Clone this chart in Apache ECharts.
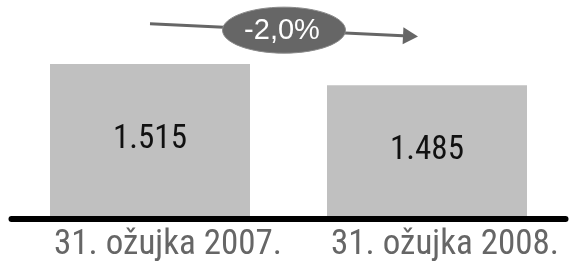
<!DOCTYPE html>
<html>
<head>
<meta charset="utf-8">
<script src="https://cdn.jsdelivr.net/npm/echarts@6/dist/echarts.min.js"></script>
<style>
    html, body { margin: 0; padding: 0; background: #fff; }
    #chart { width: 569px; height: 265px; }
</style>
</head>
<body>
<div id="chart"></div>
<script>
var categories = ['31. ožujka 2007.', '31. ožujka 2008.'];
var values = [1515, 1485];
var valueLabels = ['1.515', '1.485'];
var changeText = '-2,0%';
// strelica: od prvog stupca prema drugom (vrijednosti na osi y)
var arrowFrom = 1572;
var arrowTo = 1554;

var narrow = "'Liberation Sans Narrow', 'Roboto Condensed', 'DejaVu Sans Condensed', sans-serif";

var myChart = echarts.init(document.getElementById('chart'));

var option = {
    animation: false,
    grid: { left: 11.5, right: 3.5, top: 4, bottom: 49 },
    xAxis: {
        type: 'category',
        data: categories,
        offset: 3,
        axisLine: { lineStyle: { color: '#000', width: 6, cap: 'round' } },
        axisTick: { show: false },
        axisLabel: {
            interval: 0,
            hideOverlap: false,
            margin: 9,
            color: '#666',
            fontSize: 35,
            fontFamily: narrow,
            padding: [0, 0, 0, 36]
        }
    },
    yAxis: {
        type: 'value',
        min: 1300,
        max: 1600,
        show: false
    },
    series: [
        {
            type: 'bar',
            data: values,
            barWidth: 200,
            itemStyle: { color: '#c0c0c0' },
            label: {
                show: true,
                position: 'inside',
                color: '#111',
                fontSize: 33,
                fontFamily: narrow,
                formatter: function (p) {
                    return valueLabels[p.dataIndex];
                }
            }
        }
    ]
};

myChart.setOption(option);

// strelica i elipsa s postotkom promjene
var p0 = myChart.convertToPixel({ seriesIndex: 0 }, [0, arrowFrom]);
var p1 = myChart.convertToPixel({ seriesIndex: 0 }, [1, arrowTo]);
var tip = [p1[0] - 9, p1[1]];
var dx = tip[0] - p0[0], dy = tip[1] - p0[1];
var len = Math.sqrt(dx * dx + dy * dy);
var ux = dx / len, uy = dy / len;
var base = [tip[0] - 15 * ux, tip[1] - 15 * uy];
var mid = [(p0[0] + tip[0]) / 2, (p0[1] + tip[1]) / 2];

myChart.setOption({
    graphic: [
        {
            type: 'line',
            z: 10,
            shape: { x1: p0[0], y1: p0[1], x2: base[0], y2: base[1] },
            style: { stroke: '#666', lineWidth: 3 }
        },
        {
            type: 'polygon',
            z: 10,
            shape: {
                points: [
                    tip,
                    [base[0] - 8.5 * uy, base[1] + 8.5 * ux],
                    [base[0] + 8.5 * uy, base[1] - 8.5 * ux]
                ]
            },
            style: { fill: '#666' }
        },
        {
            type: 'ellipse',
            z: 11,
            shape: { cx: mid[0], cy: mid[1], rx: 61.5, ry: 23 },
            style: { fill: '#666', stroke: '#8a8a8a', lineWidth: 1 }
        },
        {
            type: 'text',
            z: 12,
            x: mid[0] - 2,
            y: mid[1] + 1,
            style: {
                text: changeText,
                fill: '#fff',
                fontSize: 29,
                fontFamily: "'Liberation Sans', Arial, sans-serif",
                align: 'center',
                verticalAlign: 'middle'
            }
        }
    ]
});
</script>
</body>
</html>
